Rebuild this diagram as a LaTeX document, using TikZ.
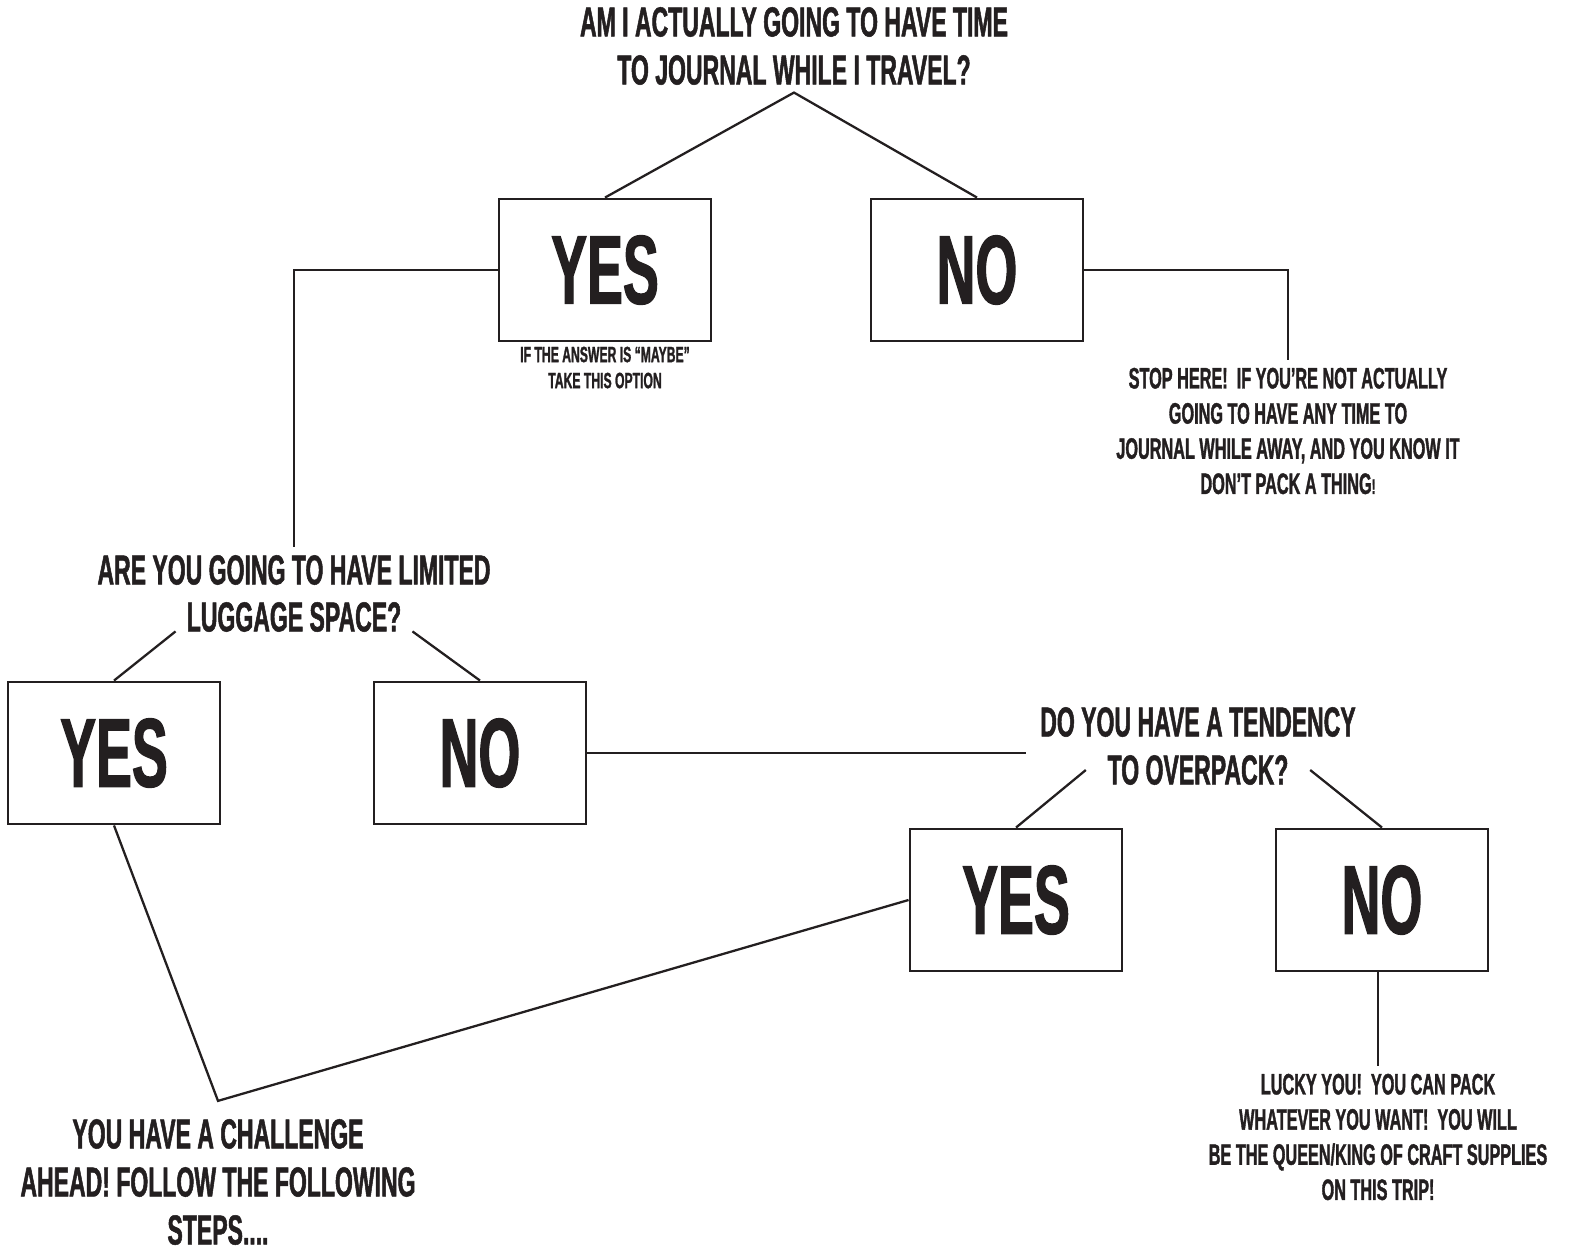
\documentclass[tikz,border=0pt]{standalone}
\usepackage{fontspec}
\setmainfont[FakeStretch=0.55,FakeBold=1.2]{Liberation Sans}
\usetikzlibrary{positioning}
\definecolor{ink}{HTML}{231F20}
\tikzset{
question/.style={
    align=center,
    inner sep=2pt,
    text=ink,
    font=\fontsize{11.9}{13.66}\selectfont\bfseries
},
answer/.style={
    rectangle,
    draw=ink,
    line width=0.8pt,
    minimum width=2.12cm,
    minimum height=1.42cm,
    inner sep=0pt,
    text=ink,
    font=\fontsize{27.8}{30}\selectfont\bfseries
},
outcome/.style={
    align=center,
    inner sep=2pt,
    text=ink,
    font=\fontsize{8.4}{10}\selectfont\bfseries
},
hint/.style={
    align=center,
    inner sep=1pt,
    text=ink,
    font=\fontsize{6.3}{7.4}\selectfont\bfseries
},
branch/.style={
    draw=ink,line width=0.65pt
},
}

\begin{document}
\begin{tikzpicture}[x=0.01cm,y=-0.01cm]
\useasboundingbox (0,0) rectangle (1570,1251);
%
\node [question] (q1) at (794,46) {AM I ACTUALLY GOING TO HAVE TIME\\TO JOURNAL WHILE I TRAVEL?};
\node [answer] (yes1) at (605,270) {YES};
\node [answer] (no1) at (977,270) {NO};
\node [hint,below=0pt of yes1] (maybe) {IF THE ANSWER IS “MAYBE”\\TAKE THIS OPTION};
\node [outcome] (stop) at (1288,431) {STOP HERE!\ \ IF YOU’RE NOT ACTUALLY\\GOING TO HAVE ANY TIME TO\\JOURNAL WHILE AWAY, AND YOU KNOW IT\\DON’T PACK A THING{\fontsize{6}{10}\selectfont!}};
%
\node [question] (q2) at (294,570) {ARE YOU GOING TO HAVE LIMITED};
\node [question,inner xsep=3pt] (q2b) at (294,617) {LUGGAGE SPACE?};
\node [answer] (yes2) at (114,753) {YES};
\node [answer] (no2) at (480,753) {NO};
%
\node [question,inner xsep=4pt] (q3) at (1198,722) {DO YOU HAVE A TENDENCY};
\node [question,inner xsep=6pt] (q3b) at (1198,770) {TO OVERPACK?};
\node [answer] (yes3) at (1016,900) {YES};
\node [answer] (no3) at (1382,900) {NO};
%
\node [outcome] (lucky) at (1378,1137) {LUCKY YOU!\ \ YOU CAN PACK\\WHATEVER YOU WANT!\ \ YOU WILL\\BE THE QUEEN/KING OF CRAFT SUPPLIES\\ON THIS TRIP!};
\node [question,inner ysep=5pt] (ahead) at (218,1182) {YOU HAVE A CHALLENGE\\AHEAD! FOLLOW THE FOLLOWING\\STEPS....};
%
\draw [branch] (yes1.north) -- (q1.south) -- (no1.north);
\draw [branch] (yes1.west) -| (q2.north);
\draw [branch] (no1.east) -| (stop.north);
\draw [branch] (yes2.north) -- (q2b.base west);
\draw [branch] (no2.north) -- (q2b.base east);
\draw [branch] (no2.east) -- (no2.east -| q3.west);
\draw [branch] (yes3.north) -- (q3b.west);
\draw [branch] (no3.north) -- (q3b.east);
\draw [branch] (yes2.south) -- (ahead.north) -- (yes3.west);
\draw [branch] (no3.south -| lucky.north) -- (lucky.north);
%
\end{tikzpicture}
\end{document}
